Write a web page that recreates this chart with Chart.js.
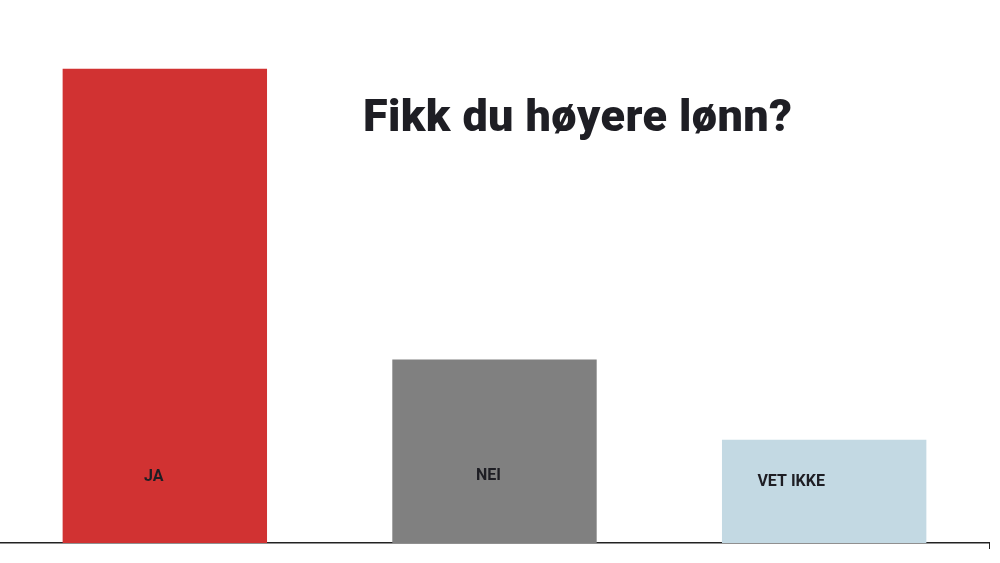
<!DOCTYPE html>
<html>
<head>
<meta charset="utf-8">
<script src="https://cdn.jsdelivr.net/npm/chart.js@4"></script>
<style>
  html, body { margin: 0; padding: 0; background: #fff; }
  #wrap { position: relative; width: 1000px; height: 563px; }
  #title { position: absolute; left: 363px; top: 89px; font-family: Roboto, sans-serif; font-weight: 900; font-size: 45px; color: #1e1e24; white-space: nowrap; letter-spacing: 0.4px; }
</style>
</head>
<body>
<div id="wrap">
  <canvas id="c" width="1000" height="563"></canvas>
  <div id="title">Fikk du høyere lønn?</div>
</div>
<script>
const categories = ["JA", "NEI", "VET IKKE"];
const values = [62, 24, 13.5];
const barColors = ["#D13232", "#808080", "#C3D9E3"];

const barLabels = {
  id: 'barLabels',
  afterDatasetsDraw(chart, args, opts) {
    const ctx = chart.ctx;
    const meta = chart.getDatasetMeta(0);
    ctx.save();
    ctx.font = "bold 16px Roboto, sans-serif";
    ctx.fillStyle = "#1e1e24";
    ctx.textAlign = "center";
    ctx.textBaseline = "middle";
    meta.data.forEach((bar, i) => {
      ctx.fillText(categories[i], bar.x + opts.dx[i], bar.base + opts.dy[i]);
    });
    ctx.restore();
  }
};

const endTick = {
  id: 'endTick',
  afterDraw(chart) {
    const ctx = chart.ctx;
    const x = chart.scales.x;
    ctx.save();
    ctx.strokeStyle = "#222";
    ctx.lineWidth = 1;
    ctx.beginPath();
    ctx.moveTo(x.right + 0.5, x.top);
    ctx.lineTo(x.right + 0.5, x.top + 6);
    ctx.stroke();
    ctx.restore();
  }
};

new Chart(document.getElementById('c'), {
  type: 'bar',
  data: {
    labels: categories,
    datasets: [{
      data: values,
      backgroundColor: barColors,
      borderWidth: 0,
      categoryPercentage: 0.62,
      barPercentage: 1.0
    }]
  },
  options: {
    responsive: false,
    animation: false,
    layout: { padding: { left: -3, right: 11, top: 0, bottom: 20 } },
    plugins: {
      legend: { display: false },
      tooltip: { enabled: false },
      title: { display: false },
      barLabels: { dx: [-11, -6, -33], dy: [-66, -67, -61] }
    },
    scales: {
      x: {
        ticks: { display: false },
        grid: { display: false, drawTicks: false },
        border: { display: true, color: "#222", width: 1.5 }
      },
      y: {
        display: false,
        min: 0,
        max: 71
      }
    }
  },
  plugins: [barLabels, endTick]
});
</script>
</body>
</html>
